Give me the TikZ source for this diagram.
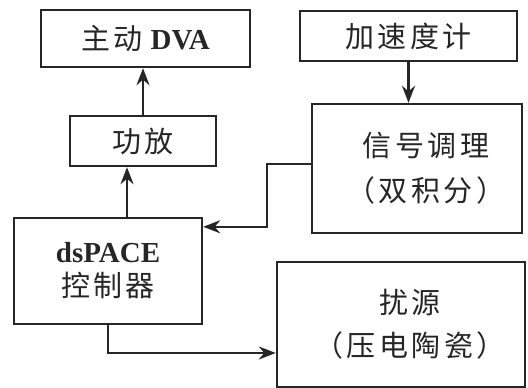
\documentclass[tikz,border=0pt]{standalone}
\usepackage{fontspec}
\usetikzlibrary{arrows.meta,calc}
\newfontfamily\cjk[LetterSpace=12]{Noto Sans CJK SC}
\newfontfamily\lat{Liberation Serif}
\tikzset{
  blk/.style={draw=black!85, line width=2.4pt, rectangle, inner sep=0pt, align=center, text=black!85},
  arr/.style={draw=black!85, line width=2.4pt, -{Stealth[length=17pt,width=13pt]}},
}
\begin{document}
\begin{tikzpicture}[x=1pt,y=-1pt]
\useasboundingbox (0,0) rectangle (528,388);
\node[blk, minimum width=209pt, minimum height=57pt, font={\fontsize{29pt}{35pt}\selectfont\cjk}] (dva) at (145.5,38.5)
  {主动\hspace{8pt}{\lat\bfseries DVA}};
\node[blk, minimum width=146pt, minimum height=50pt, font={\fontsize{29pt}{35pt}\selectfont\cjk}] (amp) at (143,141)
  {功放};
\node[blk, minimum width=217pt, minimum height=50pt, font={\fontsize{29pt}{35pt}\selectfont\cjk}] (acc) at (408.5,36)
  {加速度计};
\node[blk, minimum width=210pt, minimum height=129pt, font={\fontsize{29pt}{45pt}\selectfont\cjk}] (sig) at (417,168.5)
  {\hspace*{18pt}信号调理\\\hspace*{18pt}（双积分）};
\node[blk, minimum width=188pt, minimum height=106pt, font={\fontsize{29pt}{34pt}\selectfont\cjk}] (ds) at (108,271)
  {{\lat\bfseries dsPACE}\\控制器};
\node[blk, minimum width=248pt, minimum height=125pt, font={\fontsize{29pt}{43pt}\selectfont\cjk}] (src) at (401,324.5)
  {\hspace*{18pt}扰源\\\hspace*{18pt}（压电陶瓷）};
\draw[arr] (amp.north) -- (amp.north |- dva.south);
\draw[arr] ([xshift=19pt]ds.north) -- ([xshift=19pt]ds.north |- amp.south);
\draw[arr] (acc.south) -- (acc.south |- sig.north);
\draw[arr] ([yshift=4.5pt]sig.west) -- ++(-44,0) |- ([yshift=-10pt]ds.north east);
\draw[arr] (ds.south) |- ([yshift=-28.5pt]src.west);
\end{tikzpicture}
\end{document}
